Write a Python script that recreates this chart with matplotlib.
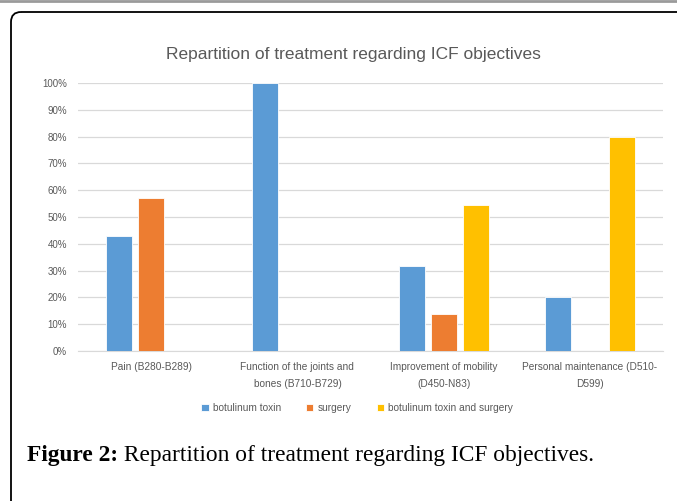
import matplotlib
matplotlib.use("Agg")
import matplotlib.pyplot as plt
from matplotlib.patches import FancyBboxPatch
import numpy as np

categories = ["Pain (B280-B289)", "Function of the joints and\nbones (B710-B729)",
              "Improvement of mobility\n(D450-N83)", "Personal maintenance (D510-\nD599)"]
series = ["botulinum toxin", "surgery", "botulinum toxin and surgery"]
botulinum = [42.86, 100.0, 31.82, 20.0]
surgery = [57.14, 0.0, 13.64, 0.0]
both = [0.0, 0.0, 54.55, 80.0]
colors = ["#5B9BD5", "#ED7D31", "#FFC000"]
yticks = list(range(0, 101, 10))

W, H = 677, 501
plt.rcParams['font.family'] = ['Liberation Sans', 'DejaVu Sans']
fig = plt.figure(figsize=(W / 100, H / 100), dpi=100)

# page frame
bg = fig.add_axes([0, 0, 1, 1])
bg.set_xlim(0, W)
bg.set_ylim(H, 0)
bg.axis('off')
bg.plot([0, W], [1, 1], color='#9a9a9a', lw=2)
box = FancyBboxPatch((11, 12), W + 40, H + 40, boxstyle="round,pad=0,rounding_size=10",
                     edgecolor='black', facecolor='none', lw=1.3)
bg.add_patch(box)
t1 = bg.text(27, 456, "Figure 2:", fontsize=16.8, fontweight='bold', family='Liberation Serif',
             va='center', ha='left')
bg.annotate(" Repartition of treatment regarding ICF objectives.", xy=(1, 0.5), xycoords=t1,
            fontsize=16.8, family='Liberation Serif', va='center', ha='left')
bg.text(353, 54, "Repartition of treatment regarding ICF objectives", color='#595959',
        fontsize=12.5, ha='center', va='center')

ax = fig.add_axes([78 / W, (H - 351) / H, (663 - 78) / W, (351 - 83) / H])
x = np.arange(len(categories))
w = 0.178
step = 0.219
for i, (vals, c, name) in enumerate(zip([botulinum, surgery, both], colors, series)):
    ax.bar(x + (i - 1) * step, vals, width=w, color=c, label=name,
           edgecolor='white', linewidth=0.6, zorder=3)

ax.set_xlim(-0.5, len(categories) - 0.5)
ax.set_ylim(0, 100)
ax.set_yticks(yticks)
ax.set_yticklabels([f"{t}%" for t in yticks], color='#595959', fontsize=7)
ax.set_xticks(x)
ax.set_xticklabels(categories, color='#595959', fontsize=7.3, linespacing=1.9)
ax.grid(axis='y', color='#d9d9d9', lw=0.9, zorder=0)
for s in ['top', 'right', 'left']:
    ax.spines[s].set_visible(False)
ax.spines['bottom'].set_color('#d9d9d9')
ax.tick_params(length=0, pad=8)

fig.legend(loc='center', bbox_to_anchor=(357 / W, (H - 408) / H), ncol=3, frameon=False,
           fontsize=7.3, handlelength=0.7, handleheight=0.7, handletextpad=0.4,
           columnspacing=2.5, labelcolor='#595959')

fig.savefig("out.png", dpi=100)
